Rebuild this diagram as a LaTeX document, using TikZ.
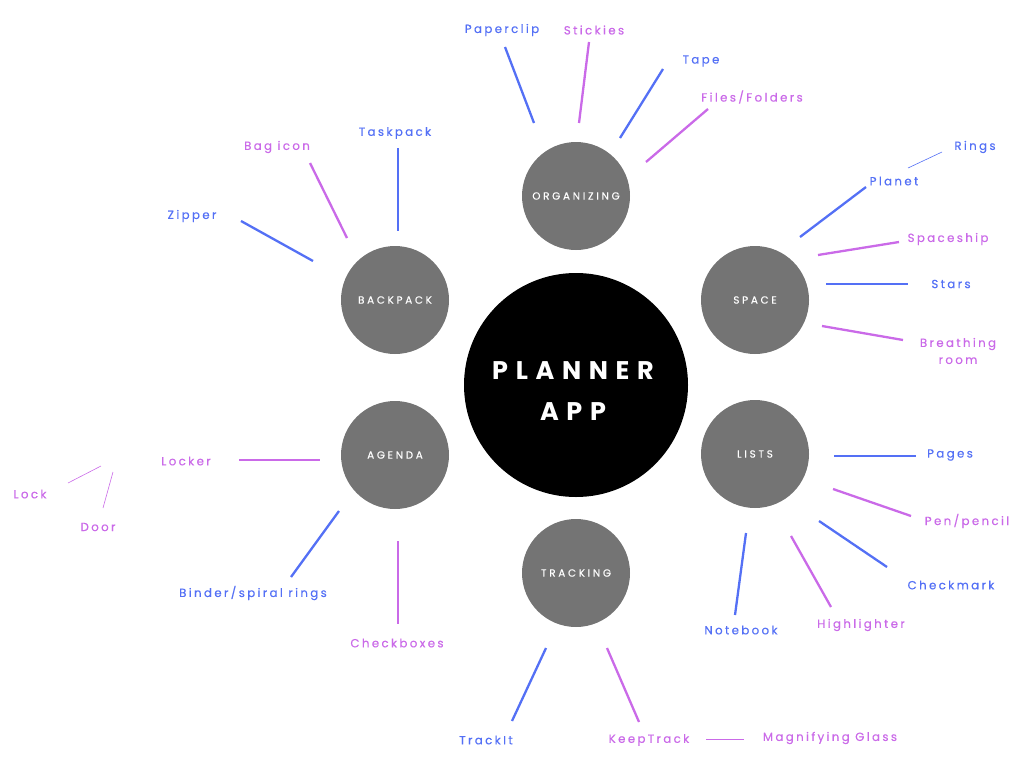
\documentclass[tikz,border=0pt]{standalone}
\usepackage{fontspec}
\newfontfamily\lblfont[LetterSpace=20,FakeBold=0.4]{Poppins}
\newfontfamily\hubfont[LetterSpace=26,FakeBold=0.3]{Poppins}
\newfontfamily\corefont[LetterSpace=30]{Poppins}
\definecolor{cblue}{RGB}{84,112,245}
\definecolor{cpurple}{RGB}{202,106,232}
\definecolor{cgrey}{RGB}{116,116,116}
\begin{document}
\begin{tikzpicture}[x=1pt,y=-1pt,
  hub/.style={circle,fill=cgrey,minimum size=108pt,inner sep=0pt,text=white,font=\hubfont\fontsize{10.4}{12}\selectfont},
  core/.style={circle,fill=black,minimum size=224pt,inner sep=0pt},
  coretext/.style={inner sep=0pt,text=white,align=center,font=\corefont\bfseries\fontsize{25.5}{41}\selectfont},
  bl/.style={text=cblue,font=\lblfont\fontsize{11.8}{17}\selectfont,inner sep=0pt},
  pl/.style={text=cpurple,font=\lblfont\fontsize{11.8}{17}\selectfont,inner sep=0pt,align=center},
  bline/.style={draw=cblue,line width=2.3pt},
  pline/.style={draw=cpurple,line width=2.3pt},
  tbline/.style={draw=cblue,line width=0.6pt},
  tpline/.style={draw=cpurple,line width=0.6pt}]
\useasboundingbox (0,0) rectangle (1024,768);
% hubs
\node[core] (core) at (576,385) {};
\node[coretext] (coretitle) at (573,391) {PLANNER\\APP};
\node[hub] (org) at (576,196) {ORGANIZING};
\node[hub] (space) at (755,300) {\raisebox{-3pt}{SPACE}};
\node[hub] (lists) at (755,454) {LISTS};
\node[hub] (track) at (576,573) {\raisebox{-3pt}{TRACKING}};
\node[hub] (agenda) at (395,455) {AGENDA};
\node[hub] (back) at (395,300) {BACKPACK};
% labels
\node[bl] (paperclip) at (502,30) {Paperclip};
\node[pl] (stickies) at (594,30) {Stickies};
\node[bl] (tape) at (701,61) {Tape};
\node[pl] (files) at (752,97) {Files/Folders};
\node[bl] (rings) at (975,147) {Rings};
\node[bl] (planet) at (894,181) {Planet};
\node[pl] (spaceship) at (948,239) {Spaceship};
\node[bl] (stars) at (951,284) {Stars};
\node[pl] (breath) at (958,351) {Breathing\\room};
\node[bl] (pages) at (950,455) {Pages};
\node[pl] (pen) at (967,521) {Pen/pencil};
\node[bl] (check) at (951,585) {Checkmark};
\node[pl] (highl) at (861,625) {Highlighter};
\node[bl] (notebook) at (741,630) {Notebook};
\node[bl] (trackit) at (486,740) {TrackIt};
\node[pl] (keep) at (649,740) {KeepTrack};
\node[pl] (magn) at (830,738) {Magnifying Glass};
\node[pl] (locker) at (186,461) {Locker};
\node[pl] (lock) at (30,494) {Lock};
\node[pl] (door) at (98,527) {Door};
\node[bl] (binder) at (253,593) {Binder/spiral rings};
\node[pl] (checkb) at (397,643) {Checkboxes};
\node[bl] (taskpack) at (395,133) {Taskpack};
\node[pl] (bag) at (277,147) {Bag icon};
\node[bl] (zipper) at (192,216) {Zipper};
% connector end points
\coordinate (a1) at (505,47);  \coordinate (a2) at (534,123);
\coordinate (b1) at (589,42);  \coordinate (b2) at (579,123);
\coordinate (c1) at (663,69);  \coordinate (c2) at (620,138);
\coordinate (d1) at (708,109); \coordinate (d2) at (646,162);
\coordinate (e1) at (942,152); \coordinate (e2) at (908,168);
\coordinate (f1) at (866,187); \coordinate (f2) at (800,237);
\coordinate (g1) at (899,242); \coordinate (g2) at (818,255);
\coordinate (h1) at (826,284); \coordinate (h2) at (908,284);
\coordinate (i1) at (822,326); \coordinate (i2) at (903,340);
\coordinate (j1) at (834,456); \coordinate (j2) at (916,456);
\coordinate (k1) at (833,489); \coordinate (k2) at (911,516);
\coordinate (l1) at (819,521); \coordinate (l2) at (887,567);
\coordinate (m1) at (791,536); \coordinate (m2) at (831,607);
\coordinate (n1) at (746,533); \coordinate (n2) at (735,615);
\coordinate (o1) at (546,648); \coordinate (o2) at (512,721);
\coordinate (p1) at (607,648); \coordinate (p2) at (639,722);
\coordinate (q1) at (706,739); \coordinate (q2) at (744,739);
\coordinate (r1) at (239,460); \coordinate (r2) at (320,460);
\coordinate (s1) at (101,466); \coordinate (s2) at (68,483);
\coordinate (t1) at (113,472); \coordinate (t2) at (103,508);
\coordinate (u1) at (339,511); \coordinate (u2) at (291,577);
\coordinate (v1) at (398,541); \coordinate (v2) at (398,624);
\coordinate (w1) at (398,148); \coordinate (w2) at (398,231);
\coordinate (x1) at (310,163); \coordinate (x2) at (347,238);
\coordinate (y1) at (241,221); \coordinate (y2) at (313,261);
% connectors
\draw[bline] (a1) -- (a2);
\draw[pline] (b1) -- (b2);
\draw[bline] (c1) -- (c2);
\draw[pline] (d1) -- (d2);
\draw[tbline] (e1) -- (e2);
\draw[bline] (f1) -- (f2);
\draw[pline] (g1) -- (g2);
\draw[bline] (h1) -- (h2);
\draw[pline] (i1) -- (i2);
\draw[bline] (j1) -- (j2);
\draw[pline] (k1) -- (k2);
\draw[bline] (l1) -- (l2);
\draw[pline] (m1) -- (m2);
\draw[bline] (n1) -- (n2);
\draw[bline] (o1) -- (o2);
\draw[pline] (p1) -- (p2);
\draw[tpline] (q1) -- (q2);
\draw[pline] (r1) -- (r2);
\draw[tpline] (s1) -- (s2);
\draw[tpline] (t1) -- (t2);
\draw[bline] (u1) -- (u2);
\draw[pline] (v1) -- (v2);
\draw[bline] (w1) -- (w2);
\draw[pline] (x1) -- (x2);
\draw[bline] (y1) -- (y2);
\end{tikzpicture}
\end{document}
